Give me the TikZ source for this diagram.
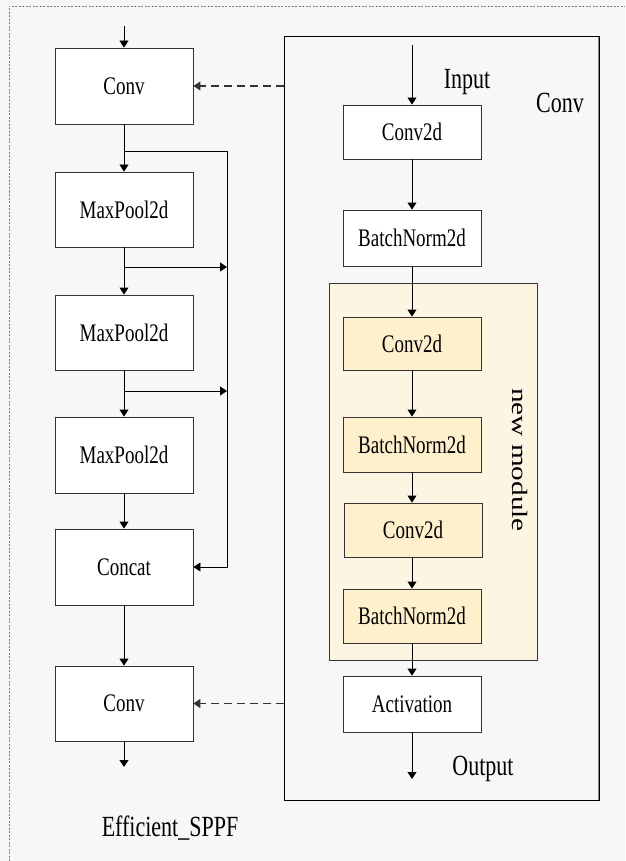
\documentclass[tikz,border=0pt]{standalone}
\usepackage{graphicx}
\usepackage{fontspec}
\setmainfont{Liberation Serif}
\usetikzlibrary{arrows.meta}
\definecolor{pagebg}{HTML}{F7F7F7}
\definecolor{modfill}{HTML}{FDF5E3}
\definecolor{boxfill}{HTML}{FEF0CC}
\definecolor{edge}{HTML}{333333}
% text is set taller than wide
\newcommand{\tall}[1]{\scalebox{1}[1.33]{#1}}
\tikzset{
  blk/.style={draw=edge, line width=0.9pt, fill=white, minimum width=138pt,
    inner sep=0pt, font=\fontsize{19}{22}\selectfont},
  yblk/.style={blk, fill=boxfill},
  arr/.style={-{Triangle[width=9pt,length=7pt]}, line width=0.9pt, draw=black},
  darr/.style={arr, line width=1.2pt, dash pattern=on 8pt off 5pt, draw=black!80},
  lbl/.style={inner sep=0pt, font=\fontsize{22}{26}\selectfont}
}
\begin{document}
\begin{tikzpicture}[x=1pt, y=-1pt]
  \fill[pagebg] (0,0) rectangle (625,861);
  \useasboundingbox (0,0) rectangle (625,861);
  % dotted frame (top and left edges)
  \draw[gray, line width=0.8pt, dash pattern=on 2pt off 1.5pt] (9,861) -- (9,6) -- (625,6);

  % ---- Efficient_SPPF column ----
  \node[blk, minimum height=76pt] (c1) at (124,86) {\tall{Conv}};
  \node[blk, minimum height=75pt] (m1) at (124,209.5) {\tall{MaxPool2d}};
  \node[blk, minimum height=75pt] (m2) at (124,332.5) {\tall{MaxPool2d}};
  \node[blk, minimum height=76pt] (m3) at (124,455) {\tall{MaxPool2d}};
  \node[blk, minimum height=76pt] (cat) at (124,567) {\tall{Concat}};
  \node[blk, minimum height=75pt] (c2) at (124,703.5) {\tall{Conv}};
  \coordinate (inL) at (124,26);
  \coordinate (outL) at (124,767);
  \coordinate (bus) at (227,151);
  \coordinate (b1) at (124,151);
  \coordinate (b2) at (124,267);
  \coordinate (b3) at (124,391);

  \draw[arr] (inL) -- (c1.north);
  \draw[arr] (c1.south) -- (m1.north);
  \draw[arr] (m1.south) -- (m2.north);
  \draw[arr] (m2.south) -- (m3.north);
  \draw[arr] (m3.south) -- (cat.north);
  \draw[arr] (cat.south) -- (c2.north);
  \draw[arr] (c2.south) -- (outL);
  \draw[arr] (b1) -- (bus) |- (cat.east);
  \draw[arr] (b2) -- (bus |- b2);
  \draw[arr] (b3) -- (bus |- b3);

  \node[lbl] (sppf) at (170,828) {\tall{Efficient\_SPPF}};

  % ---- Conv block ----
  \draw[gray, line width=2pt] (599,37) -- (599,800);
  \node[draw=black, line width=0.9pt, minimum width=315pt, minimum height=764pt,
        inner sep=0pt] (convbox) at (441.5,418) {};
  \node[draw=edge, line width=0.9pt, fill=modfill, minimum width=208pt,
        minimum height=377pt, inner sep=0pt] (newmod) at (433,471.5) {};

  \node[blk, minimum height=54pt] (k1) at (412,132) {\tall{Conv2d}};
  \node[blk, minimum height=56pt] (n1) at (412,238) {\tall{BatchNorm2d}};
  \node[yblk, minimum height=53pt] (k2) at (412,343.5) {\tall{Conv2d}};
  \node[yblk, minimum height=55pt] (n2) at (412,444.5) {\tall{BatchNorm2d}};
  \node[yblk, minimum height=54pt] (k3) at (413,530) {\tall{Conv2d}};
  \node[yblk, minimum height=54pt] (n3) at (412,616) {\tall{BatchNorm2d}};
  \node[blk, minimum height=56pt] (act) at (412,704) {\tall{Activation}};
  \coordinate (inR) at (412,45);
  \coordinate (outR) at (412,779);

  \draw[arr] (inR) -- (k1.north);
  \draw[arr] (k1.south) -- (n1.north);
  \draw[arr] (n1.south) -- (k2.north);
  \draw[arr] (k2.south) -- (n2.north);
  \draw[arr] (n2.south) -- (n2.south |- k3.north);
  \draw[arr] (n2.south |- k3.south) -- (n3.north);
  \draw[arr] (n3.south) -- (act.north);
  \draw[arr] (act.south) -- (outR);

  \node[lbl] (inlbl) at (467,82) {\tall{Input}};
  \node[lbl] (convlbl) at (560,103) {\tall{Conv}};
  \node[lbl] (outlbl) at (483,769) {\tall{Output}};
  \node[lbl, rotate=-90] (modlbl) at (520,460) {\scalebox{1.33}[1]{new module}};

  % links from the Conv block to the Conv layers
  \draw[darr] (convbox.west |- c1) -- (c1.east);
  \draw[darr] (convbox.west |- c2) -- (c2.east);
\end{tikzpicture}
\end{document}
